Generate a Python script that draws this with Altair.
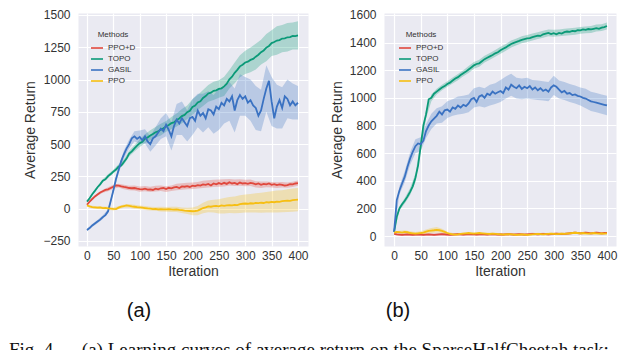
import altair as alt
import pandas as pd

# ---------------- data ----------------
ITERS = list(range(0, 401, 5))
BAND_ITERS = list(range(0, 401, 10))
METHODS = ["PPO+D", "TOPO", "GASIL", "PPO"]
COLORS = ["#E0483D", "#0B9A78", "#3A72C2", "#F6BE12"]
X_TICKS = [0, 50, 100, 150, 200, 250, 300, 350, 400]
A_Y_TICKS = [-250, 0, 250, 500, 750, 1000, 1250, 1500]
B_Y_TICKS = [0, 200, 400, 600, 800, 1000, 1200, 1400, 1600]

# panel (a) mean curves, every 5 iterations
a_ppod = [30, 55, 75, 95, 110, 125, 135, 145, 150, 160, 170, 180, 178, 172, 168, 165, 160, 158, 160, 155,
          152, 150, 155, 148, 150, 145, 155, 150, 158, 160, 152, 162, 158, 165, 168, 160, 172, 170, 175, 168,
          178, 175, 182, 178, 188, 185, 192, 180, 195, 188, 198, 190, 200, 192, 205, 195, 200, 190, 202, 195,
          198, 192, 200, 195, 188, 195, 185, 192, 188, 195, 185, 190, 182, 188, 185, 178, 182, 190, 188, 195, 198]
a_topo = [55, 80, 112, 138, 166, 188, 216, 228, 252, 268, 287, 303, 326, 334, 362, 388, 426, 443, 467, 488,
          507, 518, 542, 552, 567, 578, 592, 598, 612, 622, 637, 648, 662, 668, 687, 698, 717, 726, 747, 758,
          787, 798, 822, 832, 857, 872, 892, 898, 912, 916, 927, 932, 947, 968, 1002, 1022, 1052, 1075, 1102, 1115,
          1132, 1138, 1152, 1160, 1177, 1192, 1212, 1225, 1247, 1260, 1282, 1290, 1302, 1305, 1317, 1318, 1327, 1328, 1337, 1336, 1342]
a_gasil = [-165, -150, -130, -115, -100, -85, -65, -50, -20, 60, 140, 230, 300, 370, 420, 465, 500, 545, 560, 540,
           555, 530, 560, 520, 500, 545, 560, 590, 620, 600, 650, 610, 560, 640, 690, 660, 700, 670, 640, 700,
           710, 680, 760, 720, 740, 700, 770, 760, 730, 790, 770, 820, 800, 850, 830, 870, 760, 840, 880, 850,
           870, 820, 840, 800, 780, 720, 760, 850, 930, 990, 830, 700, 790, 840, 780, 870, 850, 800, 830, 800, 820]
a_ppo = [25, 18, 12, 10, 8, 10, 5, 6, 3, 0, -2, -3, 8, 15, 20, 25, 22, 18, 15, 12,
         10, 8, 5, 2, 0, -3, -2, -5, -4, -6, -5, -3, -6, -8, -5, -10, -12, -15, -17, -18,
         -20, -18, -15, -5, 5, 10, 18, 15, 20, 22, 18, 25, 22, 25, 28, 25, 30, 28, 35, 38,
         40, 38, 42, 40, 45, 43, 46, 44, 50, 48, 52, 50, 55, 53, 58, 60, 62, 60, 66, 68, 70]

# panel (a) half-width of shaded band, every 10 iterations
a_ppod_sd = [5, 8, 10, 12, 15, 15, 15, 18, 18, 20, 20, 20, 20, 22, 22, 22, 22, 25, 25, 25, 25,
             25, 28, 28, 28, 28, 28, 25, 25, 25, 25, 25, 25, 25, 22, 22, 22, 22, 20, 20, 20]
a_topo_sd = [5, 8, 10, 12, 15, 15, 18, 20, 22, 25, 30, 35, 40, 40, 45, 42, 48, 50, 55, 52, 60,
             58, 62, 65, 70, 68, 75, 72, 80, 85, 90, 95, 100, 95, 105, 100, 110, 105, 110, 105, 110]
a_gasil_sd = [10, 12, 12, 15, 15, 20, 25, 30, 35, 40, 50, 55, 60, 70, 80, 90, 110, 120, 130, 120, 140,
              130, 150, 140, 150, 160, 140, 150, 170, 160, 150, 160, 170, 160, 180, 190, 170, 160, 150, 140, 130]
a_ppo_sd = [8, 10, 10, 12, 12, 12, 12, 12, 15, 15, 15, 15, 15, 15, 18, 18, 20, 20, 22, 25, 30,
            35, 40, 45, 50, 55, 60, 62, 65, 68, 70, 72, 75, 78, 80, 82, 85, 85, 88, 90, 90]

# panel (b) mean curves, every 5 iterations
b_ppod = [15, 12, 10, 8, 10, 12, 10, 8, 10, 12, 10, 8, 10, 12, 10, 8, 10, 12, 14, 12,
          10, 8, 10, 12, 14, 12, 10, 12, 14, 12, 12, 10, 12, 14, 12, 10, 12, 14, 12, 10,
          12, 10, 12, 14, 12, 10, 12, 14, 12, 10, 12, 14, 16, 14, 12, 14, 16, 14, 12, 14,
          16, 18, 16, 14, 16, 18, 20, 22, 24, 22, 20, 22, 24, 22, 20, 22, 24, 22, 20, 22, 22]
b_topo = [30, 140, 200, 230, 255, 285, 320, 360, 420, 510, 650, 800, 880, 990, 1000, 1030, 1045, 1060, 1075, 1085,
          1100, 1110, 1125, 1140, 1150, 1165, 1178, 1190, 1205, 1220, 1235, 1245, 1250, 1265, 1280, 1290, 1300, 1310, 1322, 1330,
          1345, 1355, 1365, 1378, 1390, 1398, 1405, 1412, 1420, 1425, 1430, 1432, 1440, 1445, 1450, 1448, 1460, 1465, 1470, 1462,
          1468, 1460, 1470, 1465, 1475, 1480, 1478, 1485, 1482, 1490, 1488, 1495, 1492, 1498, 1495, 1500, 1505, 1500, 1508, 1512, 1520]
b_gasil = [30, 260, 330, 380, 430, 500, 560, 610, 650, 670, 665, 690, 760, 800, 830, 850, 870, 900, 880, 910,
           915, 900, 930, 920, 945, 930, 950, 940, 960, 990, 1000, 970, 1010, 1020, 1000, 1030, 1020, 1045, 1030, 1040,
           1050, 1035, 1075, 1060, 1095, 1080, 1070, 1090, 1065, 1080, 1070, 1085, 1060, 1075, 1055, 1070, 1050, 1060, 1045, 1075,
           1090, 1080, 1060, 1040, 1050, 1030, 1035, 1020, 1025, 1015, 1010, 1000, 995, 985, 975, 970, 965, 960, 955, 950, 945]
b_ppo = [25, 30, 28, 25, 30, 28, 22, 20, 18, 20, 22, 25, 32, 38, 40, 42, 45, 42, 38, 30,
         22, 15, 12, 10, 12, 15, 18, 20, 22, 20, 18, 20, 22, 20, 18, 16, 15, 18, 16, 14,
         12, 10, 12, 14, 12, 10, 8, 10, 12, 10, 8, 10, 12, 14, 16, 14, 12, 14, 16, 18,
         16, 14, 16, 18, 16, 18, 20, 22, 24, 22, 20, 22, 20, 18, 20, 22, 20, 18, 20, 18, 20]

# panel (b) band half-widths, every 10 iterations
b_ppod_sd = [5, 8, 8, 8, 8, 8, 8, 8, 8, 10, 10, 8, 8, 8, 8, 8, 8, 8, 8, 8, 8,
             8, 8, 8, 8, 8, 8, 8, 8, 8, 8, 8, 8, 8, 8, 8, 8, 8, 8, 8, 8]
b_topo_sd = [8, 15, 20, 25, 30, 35, 30, 25, 20, 20, 20, 22, 22, 22, 25, 25, 25, 25, 25, 25, 25,
             25, 25, 25, 25, 25, 25, 25, 25, 25, 25, 25, 25, 25, 25, 25, 25, 25, 25, 25, 25]
b_gasil_sd = [10, 30, 40, 45, 50, 50, 50, 55, 55, 60, 60, 60, 65, 65, 65, 70, 70, 70, 75, 75, 80,
              80, 80, 75, 75, 75, 70, 70, 70, 70, 70, 65, 65, 65, 65, 65, 70, 70, 70, 70, 70]
b_ppo_sd = [8, 10, 12, 12, 12, 12, 15, 18, 20, 15, 10, 10, 8, 8, 8, 8, 8, 8, 8, 8, 8,
            8, 8, 8, 8, 8, 8, 8, 8, 8, 8, 8, 8, 8, 8, 8, 8, 8, 8, 8, 8]

CAPTION = "Fig. 4.\u2003 (a) Learning curves of average return on the SparseHalfCheetah task:"

FONT = "Liberation Sans"


def tables(means, spreads):
    rows, brows = [], []
    for m in METHODS:
        assert len(means[m]) == len(ITERS), m
        assert len(spreads[m]) == len(BAND_ITERS), m
        for i, v in zip(ITERS, means[m]):
            rows.append({"Iteration": i, "Method": m, "Return": v})
        for j, (i, s) in enumerate(zip(BAND_ITERS, spreads[m])):
            c = means[m][2 * j]
            brows.append({"Iteration": i, "Method": m, "lo": c - s, "hi": c + s})
    return pd.DataFrame(rows), pd.DataFrame(brows)


def panel(means, spreads, xdom, ydom, yticks, width, height, leg_x, leg_y, tag, tag_x, tag_y, caption=None):
    line_df, band_df = tables(means, spreads)
    xs = alt.Scale(domain=xdom, nice=False, zero=False)
    ys = alt.Scale(domain=ydom, nice=False, zero=False)
    xax = alt.Axis(values=X_TICKS, title="Iteration", labelPadding=4, titlePadding=3, format="d")
    yax = alt.Axis(values=yticks, title="Average Return", labelPadding=8, titlePadding=5, format="d")
    cs = alt.Scale(domain=METHODS, range=COLORS)

    band = alt.Chart(band_df).mark_area(opacity=0.28).encode(
        x=alt.X("Iteration:Q", scale=xs, axis=xax),
        y=alt.Y("lo:Q", scale=ys, axis=yax, stack=None),
        y2="hi:Q",
        fill=alt.Fill("Method:N", scale=cs, legend=None),
        detail="Method:N",
    )
    line = alt.Chart(line_df).mark_line(strokeWidth=1.8).encode(
        x=alt.X("Iteration:Q", scale=xs, axis=xax),
        y=alt.Y("Return:Q", scale=ys, axis=yax),
        color=alt.Color(
            "Method:N", scale=cs, sort=METHODS,
            legend=alt.Legend(
                title="Methods", orient="none", legendX=leg_x, legendY=leg_y,
                titleFont=FONT, titleFontSize=8, titleFontWeight="normal", titleColor="#333333",
                titleAnchor="middle", titlePadding=2,
                labelFont=FONT, labelFontSize=8, labelColor="#333333", labelOffset=4,
                symbolType="stroke", symbolStrokeWidth=1.6, symbolSize=144, rowPadding=-1.5, padding=0,
            ),
        ),
    )
    tag_chart = alt.Chart(pd.DataFrame({"t": [tag]})).mark_text(
        font=FONT, fontSize=20, color="#111111", align="center", baseline="middle"
    ).encode(text="t:N", x=alt.value(tag_x), y=alt.value(tag_y))
    layers = [band, line, tag_chart]
    if caption is not None:
        cap = alt.Chart(pd.DataFrame({"t": [caption[0]]})).mark_text(
            font="Liberation Serif", fontSize=19, color="#111111", align="left", baseline="alphabetic",
            limit=616, ellipsis=""
        ).encode(text="t:N", x=alt.value(caption[1]), y=alt.value(caption[2]))
        layers.append(cap)
    return alt.layer(*layers).properties(width=width, height=height).resolve_scale(
        color="independent", fill="independent"
    )


a_means = dict(zip(METHODS, [a_ppod, a_topo, a_gasil, a_ppo]))
a_sds = dict(zip(METHODS, [a_ppod_sd, a_topo_sd, a_gasil_sd, a_ppo_sd]))
b_means = dict(zip(METHODS, [b_ppod, b_topo, b_gasil, b_ppo]))
b_sds = dict(zip(METHODS, [b_ppod_sd, b_topo_sd, b_gasil_sd, b_ppo_sd]))

left = panel(a_means, a_sds, [-17, 419], [-289, 1515], A_Y_TICKS, 230, 233,
             12, 18, "(a)", 61, 298, caption=(CAPTION, -69, 343))
right = panel(b_means, b_sds, [-19, 417], [-72, 1614], B_Y_TICKS, 232, 233,
              14, 18, "(b)", 14, 298)

chart = alt.hconcat(left, right, spacing=76, bounds="flush").resolve_scale(
    color="independent", fill="independent"
).resolve_legend(
    color="independent", fill="independent"
).properties(
    padding={"left": 0, "top": 0, "right": 0, "bottom": 0}
).configure(
    background="white"
).configure_view(
    fill="#EAEAF2", stroke="transparent"
).configure_axis(
    grid=True, gridColor="white", gridWidth=1.2, domain=False, ticks=False,
    labelFont=FONT, labelFontSize=12, labelColor="#333333",
    titleFont=FONT, titleFontSize=14, titleFontWeight="normal", titleColor="#333333",
)

chart.save("out.html", embed_options={"renderer": "svg", "actions": False})
